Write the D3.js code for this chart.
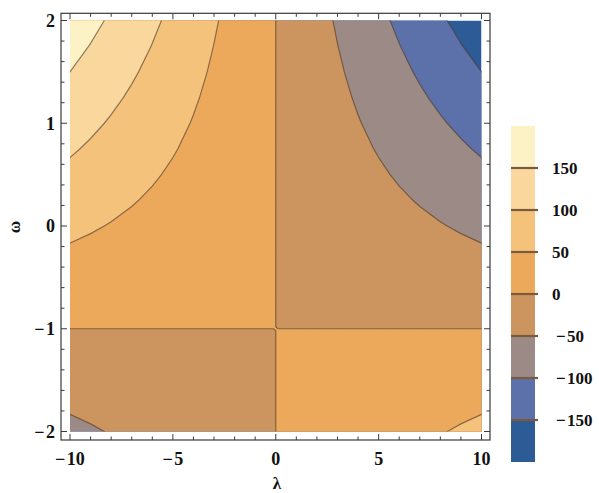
<!DOCTYPE html>
<html><head><meta charset="utf-8">
<script src="https://cdn.jsdelivr.net/npm/d3@7"></script>
<style>
body{margin:0;background:#fff}
svg{display:block}
text{font-family:"Liberation Serif","Times New Roman",serif;font-weight:bold;fill:#111}
</style>
</head><body>
<svg id="chart" width="599" height="493"></svg>
<script>
// grid sample positions (extra samples hug the zero lines λ = 0 and ω = -1)
const lambdaValues = [-10,-9,-8,-7,-6,-5,-4,-3,-2,-1,-0.1,0,0.1,1,2,3,4,5,6,7,8,9,10];
const omegaValues = [-2,-1.75,-1.5,-1.25,-1.02,-1,-0.98,-0.75,-0.5,-0.25,0,0.25,0.5,0.75,1,1.25,1.5,1.75,2];
// sampled field values, one row per omega value (bottom to top), one column per lambda value
const fieldValues = [
  [-60,-54,-48,-42,-36,-30,-24,-18,-12,-6,-0.6,0,0.6,6,12,18,24,30,36,42,48,54,60],
  [-45,-40.5,-36,-31.5,-27,-22.5,-18,-13.5,-9,-4.5,-0.45,0,0.45,4.5,9,13.5,18,22.5,27,31.5,36,40.5,45],
  [-30,-27,-24,-21,-18,-15,-12,-9,-6,-3,-0.3,0,0.3,3,6,9,12,15,18,21,24,27,30],
  [-15,-13.5,-12,-10.5,-9,-7.5,-6,-4.5,-3,-1.5,-0.15,0,0.15,1.5,3,4.5,6,7.5,9,10.5,12,13.5,15],
  [-1.2,-1.08,-0.96,-0.84,-0.72,-0.6,-0.48,-0.36,-0.24,-0.12,-0.012,0,0.012,0.12,0.24,0.36,0.48,0.6,0.72,0.84,0.96,1.08,1.2],
  [0,0,0,0,0,0,0,0,0,0,0,0,0,0,0,0,0,0,0,0,0,0,0],
  [1.2,1.08,0.96,0.84,0.72,0.6,0.48,0.36,0.24,0.12,0.012,0,-0.012,-0.12,-0.24,-0.36,-0.48,-0.6,-0.72,-0.84,-0.96,-1.08,-1.2],
  [15,13.5,12,10.5,9,7.5,6,4.5,3,1.5,0.15,0,-0.15,-1.5,-3,-4.5,-6,-7.5,-9,-10.5,-12,-13.5,-15],
  [30,27,24,21,18,15,12,9,6,3,0.3,0,-0.3,-3,-6,-9,-12,-15,-18,-21,-24,-27,-30],
  [45,40.5,36,31.5,27,22.5,18,13.5,9,4.5,0.45,0,-0.45,-4.5,-9,-13.5,-18,-22.5,-27,-31.5,-36,-40.5,-45],
  [60,54,48,42,36,30,24,18,12,6,0.6,0,-0.6,-6,-12,-18,-24,-30,-36,-42,-48,-54,-60],
  [75,67.5,60,52.5,45,37.5,30,22.5,15,7.5,0.75,0,-0.75,-7.5,-15,-22.5,-30,-37.5,-45,-52.5,-60,-67.5,-75],
  [90,81,72,63,54,45,36,27,18,9,0.9,0,-0.9,-9,-18,-27,-36,-45,-54,-63,-72,-81,-90],
  [105,94.5,84,73.5,63,52.5,42,31.5,21,10.5,1.05,0,-1.05,-10.5,-21,-31.5,-42,-52.5,-63,-73.5,-84,-94.5,-105],
  [120,108,96,84,72,60,48,36,24,12,1.2,0,-1.2,-12,-24,-36,-48,-60,-72,-84,-96,-108,-120],
  [135,121.5,108,94.5,81,67.5,54,40.5,27,13.5,1.35,0,-1.35,-13.5,-27,-40.5,-54,-67.5,-81,-94.5,-108,-121.5,-135],
  [150,135,120,105,90,75,60,45,30,15,1.5,0,-1.5,-15,-30,-45,-60,-75,-90,-105,-120,-135,-150],
  [165,148.5,132,115.5,99,82.5,66,49.5,33,16.5,1.65,0,-1.65,-16.5,-33,-49.5,-66,-82.5,-99,-115.5,-132,-148.5,-165],
  [180,162,144,126,108,90,72,54,36,18,1.8,0,-1.8,-18,-36,-54,-72,-90,-108,-126,-144,-162,-180]
];
const contourLevels = [-150,-100,-50,0,50,100,150];
const bandColors = ["#2d5b95","#5c70a9","#9c8a86","#cc955f","#eca95b","#f5c27c","#fad89d","#fdf1c6"];
const xTickValues = [-10,-5,0,5,10];
const yTickValues = [-2,-1,0,1,2];
const legendDomain = [-200,200];
const legendTickValues = [150,100,50,0,-50,-100,-150];
const xAxisLabel = "λ";
const yAxisLabel = "ω";

const svg = d3.select("#chart");
const fmt = v => v < 0 ? "\u2212\u200A" + Math.abs(v) : String(v);

const x = d3.scaleLinear().domain(d3.extent(lambdaValues)).range([70, 481.5]);
const y = d3.scaleLinear().domain(d3.extent(omegaValues)).range([431.5, 20.5]);

const nx = lambdaValues.length, ny = omegaValues.length;
// grid index -> data coordinate (piecewise linear through the sample positions)
const gx = d3.scaleLinear().domain(lambdaValues.map((d, i) => i + 0.5)).range(lambdaValues);
const gy = d3.scaleLinear().domain(omegaValues.map((d, i) => i + 0.5)).range(omegaValues);
const flat = fieldValues.flat();
const contours = d3.contours().size([nx, ny]).thresholds(contourLevels)(flat);
const path = d3.geoPath(d3.geoTransform({
  point: function(px, py) { this.stream.point(x(gx(px)), y(gy(py))); }
}));

const px0 = x.range()[0], px1 = x.range()[1], py0 = y.range()[1], py1 = y.range()[0];
svg.append("clipPath").attr("id", "plotclip").append("rect")
  .attr("x", px0).attr("y", py0).attr("width", px1 - px0).attr("height", py1 - py0);

const plot = svg.append("g").attr("clip-path", "url(#plotclip)");
plot.append("rect")
  .attr("x", px0).attr("y", py0).attr("width", px1 - px0).attr("height", py1 - py0)
  .attr("fill", bandColors[0]);
plot.selectAll("path.band").data(contours).join("path")
  .attr("class", "band")
  .attr("d", path)
  .attr("fill", (d, i) => bandColors[i + 1])
  .attr("stroke", (d, i) => bandColors[i + 1])
  .attr("stroke-width", 0.5);
plot.selectAll("path.cline").data(contours).join("path")
  .attr("class", "cline")
  .attr("d", path)
  .attr("fill", "none")
  .attr("stroke", "rgba(70,52,38,0.6)")
  .attr("stroke-width", 1.2);

// frame
const fx0 = 61, fx1 = 490, fy0 = 13.3, fy1 = 440;
svg.append("rect").attr("x", fx0).attr("y", fy0).attr("width", fx1 - fx0).attr("height", fy1 - fy0)
  .attr("fill", "none").attr("stroke", "#3a3a3a").attr("stroke-width", 1.2);

const ticks = svg.append("g").attr("stroke", "#3a3a3a").attr("stroke-width", 1);
const xMinor = x.ticks(20), yMinor = y.ticks(20);
xMinor.forEach(v => {
  const len = xTickValues.includes(v) ? 6 : 3.5;
  ticks.append("line").attr("x1", x(v)).attr("x2", x(v)).attr("y1", fy1).attr("y2", fy1 - len);
  ticks.append("line").attr("x1", x(v)).attr("x2", x(v)).attr("y1", fy0).attr("y2", fy0 + len);
});
yMinor.forEach(v => {
  const len = yTickValues.some(t => Math.abs(t - v) < 1e-9) ? 6 : 3.5;
  ticks.append("line").attr("x1", fx0).attr("x2", fx0 + len).attr("y1", y(v)).attr("y2", y(v));
  ticks.append("line").attr("x1", fx1).attr("x2", fx1 - len).attr("y1", y(v)).attr("y2", y(v));
});

svg.append("g").selectAll("text").data(xTickValues).join("text")
  .attr("x", d => x(d)).attr("y", 465).attr("text-anchor", "middle")
  .attr("font-size", 18).text(fmt);
svg.append("g").selectAll("text").data(yTickValues).join("text")
  .attr("x", 55).attr("y", d => y(d)).attr("dy", "0.35em").attr("text-anchor", "end")
  .attr("font-size", 18).text(fmt);

svg.append("text").attr("x", 277).attr("y", 489).attr("text-anchor", "middle")
  .attr("font-size", 17).text(xAxisLabel);
svg.append("text").attr("transform", "translate(20,227) rotate(-90)").attr("text-anchor", "middle")
  .attr("font-size", 17).text(yAxisLabel);

// legend
const ly = d3.scaleLinear().domain(legendDomain).range([462, 126]);
const edges = [legendDomain[0], ...contourLevels, legendDomain[1]];
const legend = svg.append("g");
legend.selectAll("rect").data(bandColors).join("rect")
  .attr("x", 511).attr("width", 24)
  .attr("y", (d, i) => ly(edges[i + 1]))
  .attr("height", (d, i) => ly(edges[i]) - ly(edges[i + 1]))
  .attr("fill", d => d);
legend.selectAll("line").data(contourLevels).join("line")
  .attr("x1", 511).attr("x2", 538).attr("y1", d => ly(d)).attr("y2", d => ly(d))
  .attr("stroke", "#7a5a3e").attr("stroke-width", 2.2);
legend.selectAll("text").data(legendTickValues).join("text")
  .attr("x", d => d < 0 ? 556 : 552).attr("y", d => ly(d)).attr("dy", "0.35em")
  .attr("font-size", 17).text(fmt);
</script>
</body></html>
